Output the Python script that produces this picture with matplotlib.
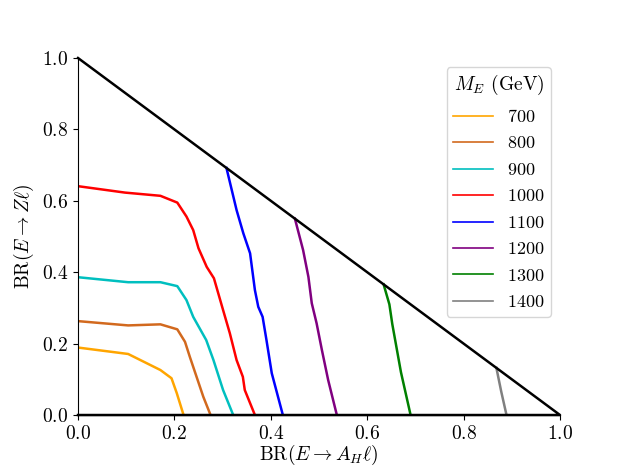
import numpy as np
import matplotlib
matplotlib.use("Agg")
import matplotlib.pyplot as plt

plt.rcParams["font.family"] = "serif"
plt.rcParams["font.serif"] = ["cmr10"]
plt.rcParams["mathtext.fontset"] = "cm"
plt.rcParams["axes.formatter.use_mathtext"] = True

# contour data: (BR(E -> A_H l), BR(E -> Z l)) for each M_E
masses = [700, 800, 900, 1000, 1100, 1200, 1300, 1400]
colors = ["orange", "chocolate", "c", "r", "b", "purple", "g", "gray"]

x700 = [0.0, 0.104, 0.171, 0.194, 0.205, 0.219]
y700 = [0.189, 0.171, 0.126, 0.103, 0.061, 0.0]

x800 = [0.0, 0.104, 0.171, 0.206, 0.222, 0.232, 0.246, 0.260, 0.275]
y800 = [0.263, 0.251, 0.254, 0.240, 0.205, 0.163, 0.107, 0.051, 0.0]

x900 = [0.0, 0.104, 0.171, 0.206, 0.225, 0.239, 0.266, 0.281, 0.301, 0.322]
y900 = [0.386, 0.372, 0.372, 0.361, 0.322, 0.275, 0.210, 0.154, 0.070, 0.0]

x1000 = [0.0, 0.0975, 0.171, 0.206, 0.225, 0.239, 0.250, 0.267, 0.282,
         0.301, 0.315, 0.329, 0.342, 0.346, 0.367]
y1000 = [0.641, 0.623, 0.614, 0.595, 0.556, 0.518, 0.467, 0.415, 0.383,
         0.294, 0.229, 0.154, 0.107, 0.070, 0.0]

x1100 = [0.308, 0.329, 0.343, 0.357, 0.367, 0.374, 0.383, 0.391, 0.402, 0.425]
y1100 = [0.692, 0.574, 0.509, 0.453, 0.350, 0.303, 0.275, 0.210, 0.117, 0.0]

x1200 = [0.450, 0.467, 0.478, 0.485, 0.495, 0.506, 0.519, 0.537]
y1200 = [0.550, 0.462, 0.387, 0.313, 0.257, 0.182, 0.098, 0.0]

x1300 = [0.634, 0.646, 0.652, 0.662, 0.670, 0.680, 0.690]
y1300 = [0.366, 0.310, 0.255, 0.180, 0.120, 0.060, 0.0]

x1400 = [0.868, 0.878, 0.889]
y1400 = [0.132, 0.066, 0.0]

xs = [x700, x800, x900, x1000, x1100, x1200, x1300, x1400]
ys = [y700, y800, y900, y1000, y1100, y1200, y1300, y1400]

fig = plt.figure(figsize=(6.23, 4.67), dpi=100)
ax = fig.add_axes([0.1252, 0.1113, 0.7737, 0.7645])

for x, y, m, c in zip(xs, ys, masses, colors):
    ax.plot(x, y, color=c, lw=1.8, label="$%d$" % m)

# physical boundary BR1 + BR2 = 1
ax.plot([0, 1, 0], [1, 0, 0], color="k", lw=1.8, clip_on=False)

ax.set_xlim(0, 1)
ax.set_ylim(0, 1)
ax.spines["top"].set_visible(False)
ax.spines["right"].set_visible(False)
ax.tick_params(labelsize=14)
ax.set_xlabel(r"$\mathrm{BR}(E\rightarrow A_H\ell)$", fontsize=14, labelpad=0)
ax.set_ylabel(r"$\mathrm{BR}(E\rightarrow Z\ell)$", fontsize=14, labelpad=4)

leg = ax.legend(loc="upper right", title=r"$M_E$ (GeV)", fontsize=13,
                title_fontsize=14, handlelength=2.2, handletextpad=0.8,
                labelspacing=0.58, borderpad=0.35)
for line in leg.get_lines():
    line.set_linewidth(1.2)

plt.savefig("out.png", dpi=100)
